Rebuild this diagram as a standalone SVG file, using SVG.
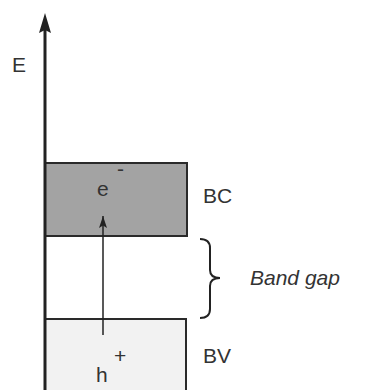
<svg xmlns="http://www.w3.org/2000/svg" width="371" height="390" viewBox="0 0 371 390">
<style>
.t{font-family:"Liberation Sans",Arial,sans-serif;font-size:21px;fill:#333}
.band{stroke:#2a2a2a;stroke-width:2}
.ln{stroke:#222;fill:none}
</style>
<defs>
<marker id="ah" markerWidth="13" markerHeight="9" refX="12" refY="4.5" orient="auto" markerUnits="userSpaceOnUse" viewBox="0 0 13 9">
<path d="M12,4.5 L0,0.5 L2.5,4.5 L0,8.5 Z" fill="#222"/>
</marker>
</defs>
<rect width="371" height="390" fill="#fff"/>
<g id="conduction-band">
<rect class="band" x="45" y="163" width="142" height="73" fill="#a3a3a3"/>
<text class="t" x="97" y="196">e<tspan x="117" y="176">-</tspan></text>
<text class="t" x="203" y="203">BC</text>
</g>
<g id="valence-band">
<rect class="band" x="45" y="319" width="141" height="80" fill="#f2f2f2"/>
<text class="t" x="96" y="382">h<tspan x="114" y="363">+</tspan></text>
<text class="t" x="203" y="363">BV</text>
</g>
<g id="band-gap">
<path class="ln" stroke-width="2" d="M200,239 Q210,239 210,248 L210,270 Q210,278 220,278 Q210,278 210,286 L210,309 Q210,318 200,318"/>
<text class="t" x="250" y="285" font-style="italic">Band gap</text>
</g>
<g id="energy-axis">
<text class="t" x="12" y="72">E</text>
</g>
<g id="connectors">
<line class="ln" x1="45" y1="390" x2="45" y2="30" stroke-width="3"/>
<path d="M45,13 L51,33 L45,30 L39,33 Z" fill="#222"/>
<line class="ln" x1="103" y1="335" x2="103" y2="216" stroke-width="1.5" marker-end="url(#ah)"/>
</g>
</svg>
